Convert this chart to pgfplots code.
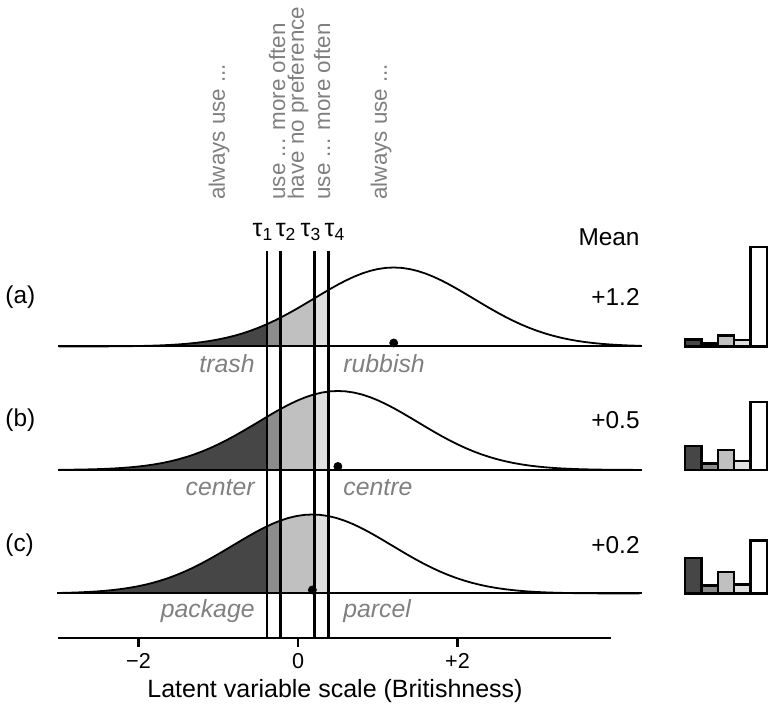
\documentclass[border=0pt]{standalone}
\usepackage{fontspec}
\setmainfont{Liberation Sans}
\usepackage{pgfplots}
\pgfplotsset{compat=1.18}
\usepgfplotslibrary{fillbetween}
\usepackage{pgfplotstable}
\definecolor{cA}{RGB}{70,70,70}
\definecolor{cB}{RGB}{140,140,140}
\definecolor{cC}{RGB}{192,192,192}
\definecolor{cD}{RGB}{224,224,224}
\definecolor{txtgray}{RGB}{128,128,128}
\newcommand\fs{\fontsize{12.2}{14}\selectfont}
\newcommand\fw{\fontsize{12.4}{14}\selectfont}
\newcommand\fr{\fontsize{11.2}{13}\selectfont}
\pgfplotstableread{
z p
-4.3 0.00004
-4.2 0.00006
-4.1 0.00009
-4.0 0.00013
-3.9 0.00020
-3.8 0.00029
-3.7 0.00042
-3.6 0.00061
-3.5 0.00087
-3.4 0.00123
-3.3 0.00172
-3.2 0.00238
-3.1 0.00327
-3.0 0.00443
-2.9 0.00595
-2.8 0.00792
-2.7 0.01042
-2.6 0.01358
-2.5 0.01753
-2.4 0.02239
-2.3 0.02833
-2.2 0.03547
-2.1 0.04398
-2.0 0.05399
-1.9 0.06562
-1.8 0.07895
-1.7 0.09405
-1.6 0.11092
-1.5 0.12952
-1.4 0.14973
-1.3 0.17137
-1.2 0.19419
-1.1 0.21785
-1.0 0.24197
-0.9 0.26609
-0.8 0.28969
-0.7 0.31225
-0.6 0.33322
-0.5 0.35207
-0.4 0.36827
-0.3 0.38139
-0.2 0.39104
-0.1 0.39695
0.0 0.39894
0.1 0.39695
0.2 0.39104
0.3 0.38139
0.4 0.36827
0.5 0.35207
0.6 0.33322
0.7 0.31225
0.8 0.28969
0.9 0.26609
1.0 0.24197
1.1 0.21785
1.2 0.19419
1.3 0.17137
1.4 0.14973
1.5 0.12952
1.6 0.11092
1.7 0.09405
1.8 0.07895
1.9 0.06562
2.0 0.05399
2.1 0.04398
2.2 0.03547
2.3 0.02833
2.4 0.02239
2.5 0.01753
2.6 0.01358
2.7 0.01042
2.8 0.00792
2.9 0.00595
3.0 0.00443
3.1 0.00327
3.2 0.00238
3.3 0.00172
3.4 0.00123
3.5 0.00087
3.6 0.00061
3.7 0.00042
3.8 0.00029
3.9 0.00020
4.0 0.00013
4.1 0.00009
4.2 0.00006
4.3 0.00004
}\normtab
\begin{document}
\begin{tikzpicture}
\begin{axis}[
  x=39.875pt, y=0.5pt,
  xmin=-3.01, xmax=3.92, ymin=78, ymax=468,
  clip=false,
  axis x line*=bottom, axis y line=none,
  x axis line style={line width=1.25pt,-},
  xtick={-2,0,2}, xticklabels={−2,0,+2},
  tick align=outside, major tick length=4.5pt,
  xtick style={line width=1.3pt,black},
  xticklabel style={font=\fontsize{10.8}{12}\selectfont, yshift=0.5pt},
]
\coordinate (bbll) at (axis cs:-3.737,0);
\coordinate (bbur) at (axis cs:5.906,716);

% ---------- panel (a), mean 1.2, baseline 369.5
\addplot[draw=none, name path=A] table[x expr=\thisrow{z}+1.2, y expr=\thisrow{p}*198+369.5, restrict x to domain=-3.02:4.32] {\normtab};
\addplot[draw=none, name path=Ab] coordinates {(-3.01,369.5) (4.31,369.5)};
\addplot[fill=cA, draw=none] fill between[of=A and Ab, soft clip={domain=-3.01:-0.39}];
\addplot[fill=cB, draw=none] fill between[of=A and Ab, soft clip={domain=-0.39:-0.22}];
\addplot[fill=cC, draw=none] fill between[of=A and Ab, soft clip={domain=-0.22:0.21}];
\addplot[fill=cD, draw=none] fill between[of=A and Ab, soft clip={domain=0.21:0.38}];
\addplot[black, line width=0.9pt] table[x expr=\thisrow{z}+1.2, y expr=\thisrow{p}*198+369.5, restrict x to domain=-3.02:4.32] {\normtab};
\addplot[black, line width=1pt] coordinates {(-3.01,369.5) (4.31,369.5)};

% ---------- panel (b), mean 0.5, baseline 246
\addplot[draw=none, name path=B] table[x expr=\thisrow{z}+0.5, y expr=\thisrow{p}*198+246, restrict x to domain=-3.02:4.32] {\normtab};
\addplot[draw=none, name path=Bb] coordinates {(-3.01,246) (4.31,246)};
\addplot[fill=cA, draw=none] fill between[of=B and Bb, soft clip={domain=-3.01:-0.39}];
\addplot[fill=cB, draw=none] fill between[of=B and Bb, soft clip={domain=-0.39:-0.22}];
\addplot[fill=cC, draw=none] fill between[of=B and Bb, soft clip={domain=-0.22:0.21}];
\addplot[fill=cD, draw=none] fill between[of=B and Bb, soft clip={domain=0.21:0.38}];
\addplot[black, line width=0.9pt] table[x expr=\thisrow{z}+0.5, y expr=\thisrow{p}*198+246, restrict x to domain=-3.02:4.32] {\normtab};
\addplot[black, line width=1pt] coordinates {(-3.01,246) (4.31,246)};

% ---------- panel (c), mean 0.18, baseline 122.5
\addplot[draw=none, name path=C] table[x expr=\thisrow{z}+0.18, y expr=\thisrow{p}*198+122.5, restrict x to domain=-3.02:4.32] {\normtab};
\addplot[draw=none, name path=Cb] coordinates {(-3.01,122.5) (4.31,122.5)};
\addplot[fill=cA, draw=none] fill between[of=C and Cb, soft clip={domain=-3.01:-0.39}];
\addplot[fill=cB, draw=none] fill between[of=C and Cb, soft clip={domain=-0.39:-0.22}];
\addplot[fill=cC, draw=none] fill between[of=C and Cb, soft clip={domain=-0.22:0.21}];
\addplot[fill=cD, draw=none] fill between[of=C and Cb, soft clip={domain=0.21:0.38}];
\addplot[black, line width=0.9pt] table[x expr=\thisrow{z}+0.18, y expr=\thisrow{p}*198+122.5, restrict x to domain=-3.02:4.32] {\normtab};
\addplot[black, line width=1pt] coordinates {(-3.01,122.5) (4.31,122.5)};

% means (dots)
\addplot[only marks, mark=*, mark size=2pt, black] coordinates {(1.2,373) (0.5,249.5) (0.18,126)};

% thresholds
\addplot[black, line width=1.35pt] coordinates {(-0.39,78) (-0.39,465)};
\addplot[black, line width=1.35pt] coordinates {(-0.22,78) (-0.22,465)};
\addplot[black, line width=1.35pt] coordinates {(0.21,78) (0.21,465)};
\addplot[black, line width=1.35pt] coordinates {(0.38,78) (0.38,465)};

% ---------- response bars (a)
\addplot[fill=cA, draw=black, line width=1.2pt] coordinates {(4.853,369.5) (4.853,376.6) (5.058,376.6) (5.058,369.5)} -- cycle;
\addplot[fill=cB, draw=black, line width=1.2pt] coordinates {(5.058,369.5) (5.058,372.4) (5.264,372.4) (5.264,369.5)} -- cycle;
\addplot[fill=cC, draw=black, line width=1.2pt] coordinates {(5.264,369.5) (5.264,380.5) (5.470,380.5) (5.470,369.5)} -- cycle;
\addplot[fill=cD, draw=black, line width=1.2pt] coordinates {(5.470,369.5) (5.470,375.7) (5.676,375.7) (5.676,369.5)} -- cycle;
\addplot[fill=white, draw=black, line width=1.2pt] coordinates {(5.676,369.5) (5.676,469.2) (5.881,469.2) (5.881,369.5)} -- cycle;
% (b)
\addplot[fill=cA, draw=black, line width=1.2pt] coordinates {(4.853,246) (4.853,269.7) (5.058,269.7) (5.058,246)} -- cycle;
\addplot[fill=cB, draw=black, line width=1.2pt] coordinates {(5.058,246) (5.058,252.6) (5.264,252.6) (5.264,246)} -- cycle;
\addplot[fill=cC, draw=black, line width=1.2pt] coordinates {(5.264,246) (5.264,265.7) (5.470,265.7) (5.470,246)} -- cycle;
\addplot[fill=cD, draw=black, line width=1.2pt] coordinates {(5.470,246) (5.470,255.0) (5.676,255.0) (5.676,246)} -- cycle;
\addplot[fill=white, draw=black, line width=1.2pt] coordinates {(5.676,246) (5.676,314.1) (5.881,314.1) (5.881,246)} -- cycle;
% (c)
\addplot[fill=cA, draw=black, line width=1.2pt] coordinates {(4.853,122.5) (4.853,157.8) (5.058,157.8) (5.058,122.5)} -- cycle;
\addplot[fill=cB, draw=black, line width=1.2pt] coordinates {(5.058,122.5) (5.058,130.5) (5.264,130.5) (5.264,122.5)} -- cycle;
\addplot[fill=cC, draw=black, line width=1.2pt] coordinates {(5.264,122.5) (5.264,144.2) (5.470,144.2) (5.470,122.5)} -- cycle;
\addplot[fill=cD, draw=black, line width=1.2pt] coordinates {(5.470,122.5) (5.470,131.5) (5.676,131.5) (5.676,122.5)} -- cycle;
\addplot[fill=white, draw=black, line width=1.2pt] coordinates {(5.676,122.5) (5.676,175.5) (5.881,175.5) (5.881,122.5)} -- cycle;

% ---------- texts
\begin{scope}[every node/.style={inner sep=0pt}]
\node[font=\fr, rotate=90, anchor=west, text=txtgray] at (axis cs:-0.991,516) {always use ...};
\node[font=\fr, rotate=90, anchor=west, text=txtgray] at (axis cs:-0.263,516) {use ... more often};
\node[font=\fr, rotate=90, anchor=west, text=txtgray] at (axis cs:0.0,516) {have no preference};
\node[font=\fr, rotate=90, anchor=west, text=txtgray] at (axis cs:0.301,516) {use ... more often};
\node[font=\fr, rotate=90, anchor=west, text=txtgray] at (axis cs:1.041,516) {always use ...};

\node[font=\fontsize{12.5}{14}\selectfont] at (axis cs:-0.439,484) {τ\textsubscript{1}};
\node[font=\fontsize{12.5}{14}\selectfont] at (axis cs:-0.150,484) {τ\textsubscript{2}};
\node[font=\fontsize{12.5}{14}\selectfont] at (axis cs:0.163,484) {τ\textsubscript{3}};
\node[font=\fontsize{12.5}{14}\selectfont] at (axis cs:0.464,484) {τ\textsubscript{4}};

\node[font=\fs, anchor=west] at (axis cs:-3.674,419) {(a)};
\node[font=\fs, anchor=west] at (axis cs:-3.674,296) {(b)};
\node[font=\fs, anchor=west] at (axis cs:-3.674,171) {(c)};

\node[font=\fs, anchor=east] at (axis cs:4.288,479) {Mean};
\node[font=\fs, anchor=east] at (axis cs:4.288,419) {+1.2};
\node[font=\fs, anchor=east] at (axis cs:4.288,296) {+0.5};
\node[font=\fs, anchor=east] at (axis cs:4.288,171) {+0.2};

\node[font=\fw\itshape, anchor=east, text=txtgray] at (axis cs:-0.539,352) {trash};
\node[font=\fw\itshape, anchor=west, text=txtgray] at (axis cs:0.564,352) {rubbish};
\node[font=\fw\itshape, anchor=east, text=txtgray] at (axis cs:-0.539,228) {center};
\node[font=\fw\itshape, anchor=west, text=txtgray] at (axis cs:0.564,228) {centre};
\node[font=\fw\itshape, anchor=east, text=txtgray] at (axis cs:-0.539,105) {package};
\node[font=\fw\itshape, anchor=west, text=txtgray] at (axis cs:0.564,105) {parcel};

\node[font=\fontsize{12.5}{14}\selectfont] at (axis cs:0.464,25) {Latent variable scale (Britishness)};
\end{scope}
\end{axis}
\pgfresetboundingbox
\path (bbll) rectangle (bbur);
\end{tikzpicture}
\end{document}
